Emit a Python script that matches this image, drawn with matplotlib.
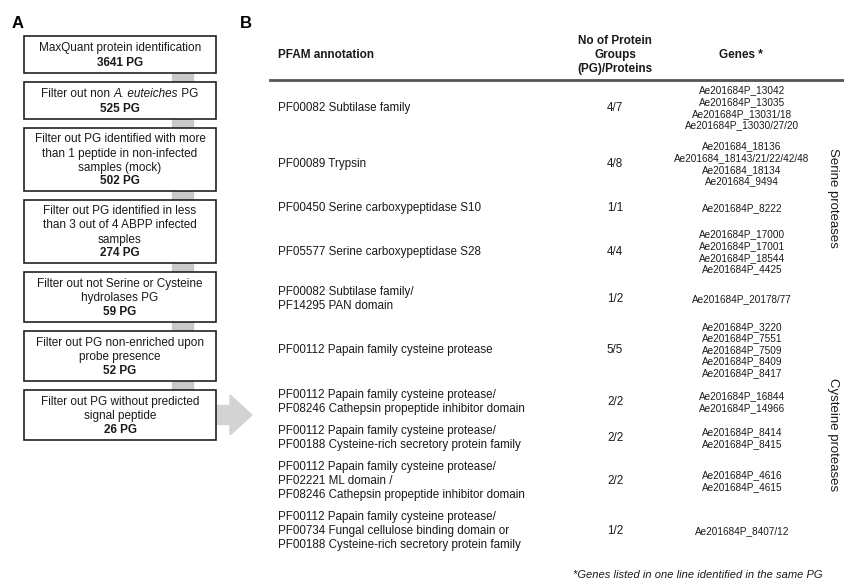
import matplotlib
matplotlib.use("Agg")
from matplotlib import pyplot as plt
from matplotlib import patches as mpatches

plt.rcParams['font.family'] = ['Liberation Sans', 'DejaVu Sans']

# Panel A: filtering steps and protein group counts
# (pieces are (text, italic) so the species name can be set in italics)
step_texts = [
    [[("MaxQuant protein identification", False)]],
    [[("Filter out non ", False), ("A. euteiches", True), (" PG", False)]],
    [[("Filter out PG identified with more", False)],
     [("than 1 peptide in non-infected", False)],
     [("samples (mock)", False)]],
    [[("Filter out PG identified in less", False)],
     [("than 3 out of 4 ABPP infected", False)],
     [("samples", False)]],
    [[("Filter out not Serine or Cysteine", False)],
     [("hydrolases PG", False)]],
    [[("Filter out PG non-enriched upon", False)],
     [("probe presence", False)]],
    [[("Filter out PG without predicted", False)],
     [("signal peptide", False)]],
]
step_counts = [3641, 525, 502, 274, 59, 52, 26]

# Panel B: table
pfam_annotations = [
    "PF00082 Subtilase family",
    "PF00089 Trypsin",
    "PF00450 Serine carboxypeptidase S10",
    "PF05577 Serine carboxypeptidase S28",
    "PF00082 Subtilase family/\nPF14295 PAN domain",
    "PF00112 Papain family cysteine protease",
    "PF00112 Papain family cysteine protease/\nPF08246 Cathepsin propeptide inhibitor domain",
    "PF00112 Papain family cysteine protease/\nPF00188 Cysteine-rich secretory protein family",
    "PF00112 Papain family cysteine protease/\nPF02221 ML domain /\nPF08246 Cathepsin propeptide inhibitor domain",
    "PF00112 Papain family cysteine protease/\nPF00734 Fungal cellulose binding domain or\nPF00188 Cysteine-rich secretory protein family",
]
pg_counts = ["4/7", "4/8", "1/1", "4/4", "1/2", "5/5", "2/2", "2/2", "2/2", "1/2"]
genes = [
    "Ae201684P_13042\nAe201684P_13035\nAe201684P_13031/18\nAe201684P_13030/27/20",
    "Ae201684_18136\nAe201684_18143/21/22/42/48\nAe201684_18134\nAe201684_9494",
    "Ae201684P_8222",
    "Ae201684P_17000\nAe201684P_17001\nAe201684P_18544\nAe201684P_4425",
    "Ae201684P_20178/77",
    "Ae201684P_3220\nAe201684P_7551\nAe201684P_7509\nAe201684P_8409\nAe201684P_8417",
    "Ae201684P_16844\nAe201684P_14966",
    "Ae201684P_8414\nAe201684P_8415",
    "Ae201684P_4616\nAe201684P_4615",
    "Ae201684P_8407/12",
]
protease_groups = ["Serine proteases", "Cysteine proteases"]
group_rows = [(0, 4), (5, 9)]

TEXT = "#1a1a1a"
GREY = "#c9c9c9"

fig = plt.figure(figsize=(8.44, 5.86), dpi=100)
ax = fig.add_axes([0, 0, 1, 1])
ax.set_xlim(0, 844)
ax.set_ylim(586, 0)
ax.axis("off")
renderer = fig.canvas.get_renderer()


def rich_line(xc, y, pieces, **kw):
    # draw a line made of several styled pieces, centred on xc
    arts = []
    for s, it in pieces:
        t = ax.text(0, y, s, ha="left", va="baseline",
                    style="italic" if it else "normal", **kw)
        arts.append(t)
    widths = []
    for t in arts:
        bb = t.get_window_extent(renderer=renderer)
        widths.append(bb.width)
    x = xc - sum(widths) / 2.0
    for t, w in zip(arts, widths):
        t.set_x(x)
        x += w


ax.text(12, 24, "A", fontsize=12, fontweight="bold", color="black", va="center")
ax.text(240, 24, "B", fontsize=12, fontweight="bold", color="black", va="center")

# flowchart
box_x0, box_x1 = 24, 216
top = 36
ax.add_patch(mpatches.Rectangle((172, 73), 21, 320, color=GREY, zorder=1))
for lines, n in zip(step_texts, step_counts):
    nl = len(lines) + 1
    h = 13 * nl + 11
    ax.add_patch(mpatches.Rectangle((box_x0, top), box_x1 - box_x0, h,
                                    facecolor="white", edgecolor="#222222",
                                    linewidth=1.2, zorder=2))
    cy = top + h / 2.0
    step = 15 if nl == 2 else 14
    xc = (box_x0 + box_x1) / 2.0
    for i in range(nl):
        y = cy + (i - (nl - 1) / 2.0) * step + 4
        if i == nl - 1:
            ax.text(xc, y, "%d PG" % n, ha="center", va="baseline",
                    fontsize=8.5, color=TEXT, zorder=3, fontweight="bold")
        else:
            rich_line(xc, y, lines[i], fontsize=8.5, color=TEXT, zorder=3)
    last_cy = cy
    top += h + 9

ax.add_patch(mpatches.FancyArrow(216, last_cy, 14, 0, width=19,
                                 head_width=40, head_length=22,
                                 length_includes_head=False,
                                 color="#d3d3d3", zorder=1))

# table header
ax.text(278, 55, "PFAM annotation", fontsize=8.5, fontweight="bold",
        color=TEXT, va="center")
ax.text(615, 55, "No of Protein\nGroups\n(PG)/Proteins", fontsize=8.5,
        fontweight="bold", color=TEXT, ha="center", va="center",
        linespacing=1.25)
ax.text(741, 55, "Genes *", fontsize=8.5, fontweight="bold", color=TEXT,
        ha="center", va="center")
ax.plot([270, 843], [80, 80], color="#555555", linewidth=2)

row_centers = [108, 164, 208, 252, 299, 350, 402, 438, 481, 531]
for yc, ann, cnt, g in zip(row_centers, pfam_annotations, pg_counts, genes):
    ax.text(278, yc, ann, fontsize=8.4, color=TEXT, va="center",
            linespacing=1.25)
    ax.text(615, yc, cnt, fontsize=8.4, color=TEXT, ha="center", va="center")
    ax.text(742, yc, g, fontsize=7.2, color=TEXT, ha="center", va="center",
            linespacing=1.2)

for label, (r0, r1) in zip(protease_groups, group_rows):
    yc = (row_centers[r0] + row_centers[r1]) / 2.0 - 6
    ax.text(833, yc, label, fontsize=9.5, color=TEXT, rotation=-90,
            ha="center", va="center")

ax.text(573, 575, "*Genes listed in one line identified in the same PG",
        fontsize=8.0, style="italic", color=TEXT, ha="left", va="center")

fig.savefig("out.png", dpi=100)
